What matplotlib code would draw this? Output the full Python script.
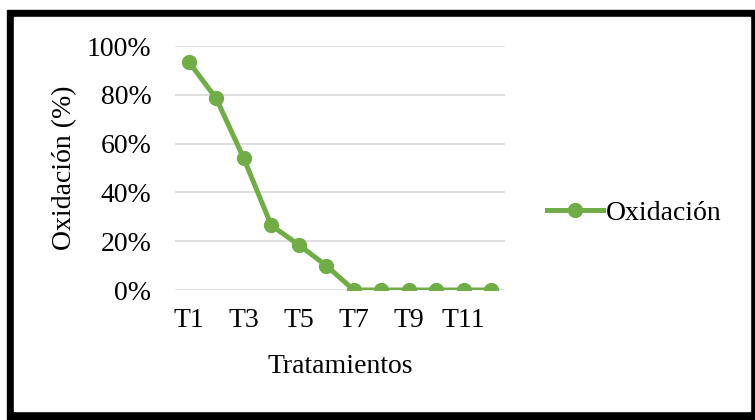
import matplotlib.pyplot as plt
from matplotlib.patches import Rectangle

# oxidation per treatment
tratamientos = ['T1', 'T2', 'T3', 'T4', 'T5', 'T6', 'T7', 'T8', 'T9', 'T10', 'T11', 'T12']
oxidacion = [0.935, 0.785, 0.54, 0.265, 0.185, 0.10, 0, 0, 0, 0, 0, 0]
yticks = [0, 0.2, 0.4, 0.6, 0.8, 1.0]
ytick_labels = ['0%', '20%', '40%', '60%', '80%', '100%']

plt.rcParams['font.family'] = ['Liberation Serif', 'DejaVu Serif']
fs = 20

fig = plt.figure(figsize=(7.55, 4.2), dpi=100)

# thick black frame around the chart
fig.patches.append(Rectangle((7 / 755, 0), 1 - 7 / 755, 410 / 420,
                             transform=fig.transFigure, color='black', zorder=-10))
fig.patches.append(Rectangle((14 / 755, 9 / 420), 736 / 755, 394 / 420,
                             transform=fig.transFigure, color='white', zorder=-9))

ax = fig.add_axes([175 / 755, 130 / 420, 330 / 755, 244 / 420])
ax.patch.set_alpha(0)

x = list(range(len(tratamientos)))
ax.plot(x, oxidacion, color='#70AD47', linewidth=3.6, marker='o', markersize=10,
        label='Oxidación', zorder=3)

ax.set_xlim(-0.5, len(tratamientos) - 0.5)
ax.set_ylim(0, 1)
ax.set_yticks(yticks)
ax.set_yticklabels(ytick_labels, fontsize=fs)
ax.set_xticks(x[::2])
ax.set_xticklabels(tratamientos[::2], fontsize=fs)
ax.tick_params(length=0)
ax.tick_params(axis='y', pad=17)
ax.tick_params(axis='x', pad=13)
ax.grid(axis='y', color='#D9D9D9', linewidth=1.2)
ax.set_axisbelow(True)
for s in ax.spines.values():
    s.set_visible(False)

ax.set_xlabel('Tratamientos', fontsize=fs)
ax.set_ylabel('Oxidación (%)', fontsize=fs)
ax.xaxis.set_label_coords(0.5, -0.262)
ax.yaxis.set_label_coords(-0.297, 0.5)

ax.legend(loc='center left', bbox_to_anchor=(547 / 755, 1 - 213 / 420),
          bbox_transform=fig.transFigure, frameon=False, fontsize=fs,
          handlelength=2.0, handletextpad=0.12, markerscale=1.0,
          borderpad=0, borderaxespad=0)

fig.savefig('out.png', dpi=100)
